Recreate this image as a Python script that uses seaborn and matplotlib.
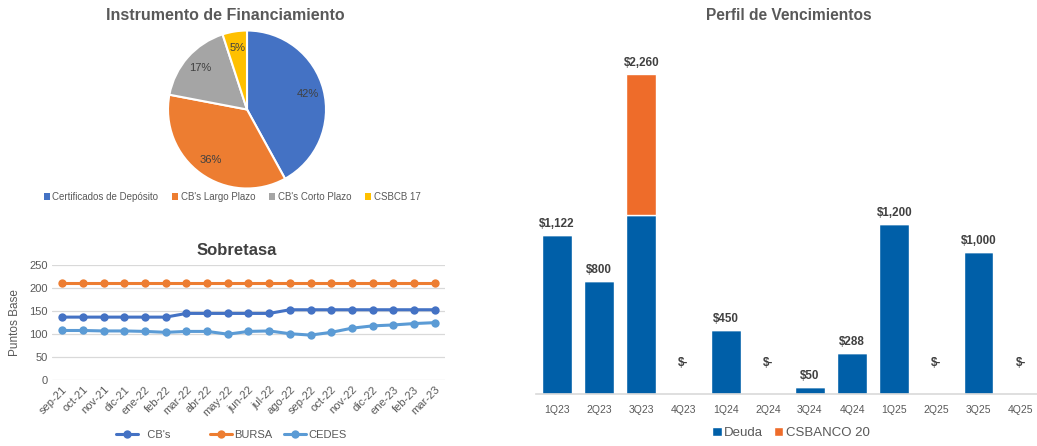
import matplotlib
matplotlib.use("Agg")
import matplotlib.pyplot as plt
import seaborn as sns
import numpy as np
import pandas as pd
from matplotlib.lines import Line2D
from matplotlib.patches import Patch

# ---------------- data ----------------
pie_labels = ["Certificados de Depósito", "CB's Largo Plazo", "CB's Corto Plazo", "CSBCB 17"]
pie_values = [42, 36, 17, 5]
pie_colors = ["#4472C4", "#ED7D31", "#A5A5A5", "#FFC000"]

months = ["sep-21", "oct-21", "nov-21", "dic-21", "ene-22", "feb-22", "mar-22", "abr-22",
          "may-22", "jun-22", "jul-22", "ago-22", "sep-22", "oct-22", "nov-22", "dic-22",
          "ene-23", "feb-23", "mar-23"]
cbs = [137, 137, 137, 137, 137, 137, 145, 145, 145, 145, 145, 153, 153, 153, 153, 153, 153, 153, 153]
bursa = [210] * 19
cedes = [108, 108, 107, 107, 106, 104, 106, 106, 100, 106, 107, 101, 98, 104, 113, 118, 120, 123, 125]
line_series = ["CB's", "BURSA", "CEDES"]

quarters = ["1Q23", "2Q23", "3Q23", "4Q23", "1Q24", "2Q24", "3Q24", "4Q24",
            "1Q25", "2Q25", "3Q25", "4Q25"]
deuda = [1122, 800, 1260, 0, 450, 0, 50, 288, 1200, 0, 1000, 0]
csbanco = [0, 0, 1000, 0, 0, 0, 0, 0, 0, 0, 0, 0]
bar_labels = ["$1,122", "$800", "$2,260", "$-", "$450", "$-", "$50", "$288",
              "$1,200", "$-", "$1,000", "$-"]

# ---------------- style ----------------
sns.set_theme(style="white")
plt.rcParams["font.family"] = ["Liberation Sans", "DejaVu Sans"]

W, H = 1037, 446
fig = plt.figure(figsize=(W / 100, H / 100), dpi=100)
fig.patch.set_facecolor("white")


def ax_px(left, top, right, bottom):
    return fig.add_axes([left / W, 1 - bottom / H, (right - left) / W, (bottom - top) / H])


# ---------------- pie ----------------
cx, cy, r = 247, 109.5, 79
axp = ax_px(cx - r, cy - r, cx + r, cy + r)
wedges, texts, autotexts = axp.pie(
    pie_values, colors=pie_colors, startangle=90, counterclock=False,
    autopct=lambda p: f"{p:.0f}%", pctdistance=0.79,
    wedgeprops=dict(edgecolor="white", linewidth=1.5),
    textprops=dict(color="#404040", fontsize=8))
axp.set_xlim(-1, 1)
axp.set_ylim(-1, 1)
axp.set_aspect("equal")
fig.text(225 / W, 1 - 16 / H, "Instrumento de Financiamiento", ha="center", va="center",
         fontsize=11.5, fontweight="bold", color="#595959")
pie_handles = [Patch(facecolor=c, edgecolor="none") for c in pie_colors]
fig.legend(pie_handles, pie_labels, loc="center", bbox_to_anchor=(232 / W, 1 - 197 / H),
           ncol=4, frameon=False, fontsize=7, handlelength=0.6, handleheight=0.6,
           handletextpad=0.3, columnspacing=1.4, labelcolor="#595959")

# ---------------- line chart ----------------
axl = ax_px(52, 265, 445, 380.3)
df = pd.DataFrame({"valor": cbs + bursa + cedes,
                   "serie": [line_series[0]] * 19 + [line_series[1]] * 19 + [line_series[2]] * 19})
df["x"] = list(range(19)) * 3
line_colors = {"CB's": "#4472C4", "BURSA": "#ED7D31", "CEDES": "#5B9BD5"}
sns.lineplot(data=df, x="x", y="valor", hue="serie", palette=line_colors, marker="o",
             markersize=6, markeredgewidth=0, linewidth=2.2, ax=axl, legend=False)
axl.set_xlim(-0.5, 18.5)
axl.set_ylim(0, 250)
axl.set_yticks(range(0, 251, 50))
axl.set_xticks(range(19))
axl.set_xticklabels(months, rotation=45, ha="right", rotation_mode="anchor")
axl.tick_params(axis="both", labelsize=8, colors="#595959", length=0, pad=3)
axl.grid(axis="y", color="#D9D9D9", linewidth=0.9)
axl.set_axisbelow(True)
for s in axl.spines.values():
    s.set_visible(False)
axl.set_xlabel("")
axl.set_ylabel("Puntos Base", fontsize=8.5, color="#595959", labelpad=6)
fig.text(237 / W, 1 - 251 / H, "Sobretasa", ha="center", va="center",
         fontsize=12, fontweight="bold", color="#404040")
line_handles = [Line2D([0], [0], color=line_colors[k], marker="o", markersize=6,
                       markeredgewidth=0, linewidth=2.2) for k in line_series]
leg_labels = ["  " + line_series[0] + "         ", line_series[1], line_series[2]]
fig.legend(line_handles, leg_labels, loc="center left",
           bbox_to_anchor=(116 / W, 1 - 435 / H), ncol=3, frameon=False, fontsize=8,
           handlelength=2.0, handletextpad=0.25, columnspacing=1.0, labelcolor="#595959",
           borderpad=0, borderaxespad=0)

# ---------------- bar chart ----------------
step = 42.15
axb = ax_px(557 - step / 2, 394 - 2500 * 0.14167, 557 - step / 2 + 12 * step, 394)
xs = np.arange(len(quarters))
axb.bar(xs, deuda, width=0.71, color="#005FA8", label="Deuda")
axb.bar(xs, csbanco, width=0.71, bottom=deuda, color="#EE6C2A", label="CSBANCO 20")
totals = np.array(deuda) + np.array(csbanco)
for x, t, lab in zip(xs, totals, bar_labels):
    off = 31 if t == 0 else 11
    axb.annotate(lab, (x, t), xytext=(0, off), textcoords="offset pixels",
                 ha="center", va="center", fontsize=8.4, fontweight="bold", color="#404040")
axb.set_xlim(-0.5, 11.5)
axb.set_ylim(0, 2500)
axb.set_xticks(xs)
axb.set_xticklabels(quarters)
axb.set_yticks([])
axb.tick_params(axis="x", labelsize=7.5, colors="#595959", length=0, pad=8)
for k, s in axb.spines.items():
    s.set_visible(k == "bottom")
axb.spines["bottom"].set_color("#D9D9D9")
axb.spines["bottom"].set_linewidth(1.2)
fig.text(789 / W, 1 - 16 / H, "Perfil de Vencimientos", ha="center", va="center",
         fontsize=11.2, fontweight="bold", color="#595959")
bar_handles = [Patch(facecolor="#005FA8"), Patch(facecolor="#EE6C2A")]
fig.legend(bar_handles, ["Deuda", "CSBANCO 20"], loc="center",
           bbox_to_anchor=(791 / W, 1 - 433 / H), ncol=2, frameon=False, fontsize=9.5,
           handlelength=0.7, handleheight=0.7, handletextpad=0.2, columnspacing=0.8,
           labelcolor="#595959")

fig.savefig("out.png", dpi=100, facecolor="white")
